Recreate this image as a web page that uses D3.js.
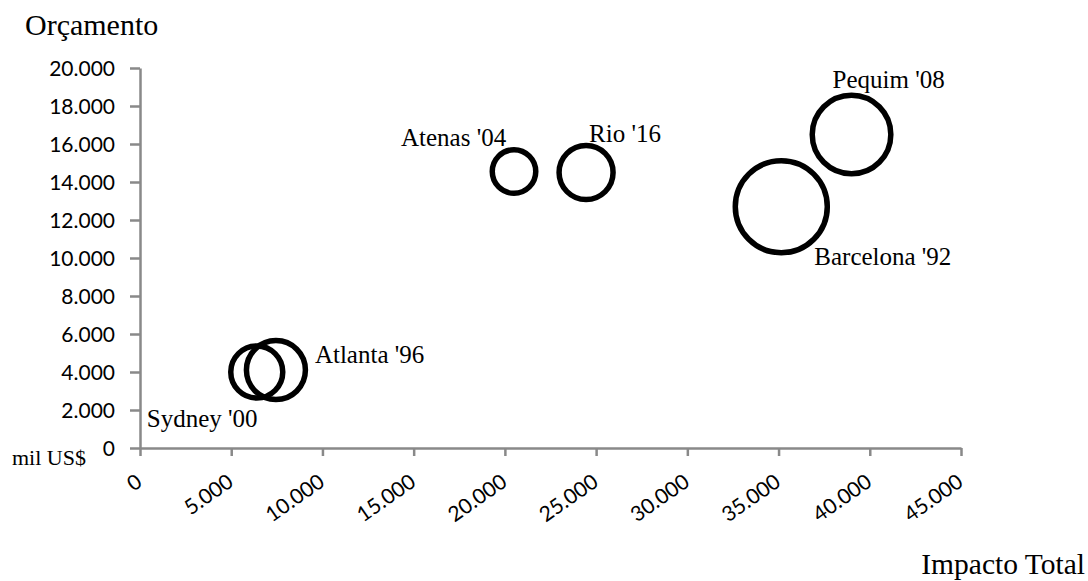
<!DOCTYPE html>
<html>
<head>
<meta charset="utf-8">
<script src="https://cdn.jsdelivr.net/npm/d3@7"></script>
<style>
  body { margin: 0; background: #fff; }
  svg { display: block; }
</style>
</head>
<body>
<div id="chart"></div>
<script>
// dados
const jogos = ["Barcelona '92", "Atlanta '96", "Sydney '00", "Atenas '04", "Pequim '08", "Rio '16"];
const impactoTotal = [35150, 7450, 6400, 20500, 39000, 24450];
const orcamento = [12700, 4100, 4000, 14550, 16500, 14500];
const tamanho = [2116, 870, 676, 473, 1544, 729];
const xTicks = [0, 5000, 10000, 15000, 20000, 25000, 30000, 35000, 40000, 45000];
const yTicks = [0, 2000, 4000, 6000, 8000, 10000, 12000, 14000, 16000, 18000, 20000];

// deslocamento dos rótulos em relação ao centro da bolha
const labelOffset = {
    "Barcelona '92": [33, 58],
    "Atlanta '96": [39, -7],
    "Sydney '00": [-110, 55],
    "Atenas '04": [-113, -26],
    "Pequim '08": [-19, -47],
    "Rio '16": [3, -31]
};

const width = 1088, height = 581;
const margin = {top: 68, right: 127, bottom: 133, left: 140};

const svg = d3.select("#chart").append("svg")
    .attr("width", width)
    .attr("height", height);

const x = d3.scaleLinear()
    .domain([0, 45000])
    .range([margin.left, width - margin.right]);

const y = d3.scaleLinear()
    .domain([0, 20000])
    .range([height - margin.bottom, margin.top]);

const r = d3.scaleSqrt()
    .domain([0, d3.max(tamanho)])
    .range([0, 46]);

const fmt = d => d3.format(",")(d).replace(/,/g, ".");
const axisColor = "#898989";

// eixo Y
const gy = svg.append("g")
    .attr("transform", `translate(${margin.left},0)`)
    .call(d3.axisLeft(y).tickValues(yTicks).tickSize(10).tickSizeOuter(0).tickFormat(fmt));
gy.select(".domain").attr("stroke", axisColor).attr("stroke-width", 2.5);
gy.selectAll(".tick line").attr("stroke", axisColor).attr("stroke-width", 2.5);
gy.selectAll(".tick text")
    .attr("x", -25)
    .attr("dy", "0.36em")
    .attr("fill", "#000")
    .style("font", "21px Lato");

// eixo X
const gx = svg.append("g")
    .attr("transform", `translate(0,${height - margin.bottom})`)
    .call(d3.axisBottom(x).tickValues(xTicks).tickSize(8).tickSizeOuter(0).tickFormat(fmt));
gx.select(".domain").attr("stroke", axisColor).attr("stroke-width", 2.5);
gx.selectAll(".tick line").attr("stroke", axisColor).attr("stroke-width", 2.5);
gx.selectAll(".tick text")
    .attr("y", 0)
    .attr("dy", "0.75em")
    .attr("text-anchor", "end")
    .attr("transform", "translate(-6,24) rotate(-35)")
    .attr("fill", "#000")
    .style("font", "21px Lato");

// bolhas
const data = jogos.map((d, i) => ({nome: d, x: impactoTotal[i], y: orcamento[i], s: tamanho[i]}));

svg.append("g")
  .selectAll("circle")
  .data(data)
  .join("circle")
    .attr("cx", d => x(d.x))
    .attr("cy", d => y(d.y))
    .attr("r", d => r(d.s))
    .attr("fill", "none")
    .attr("stroke", "#000")
    .attr("stroke-width", 5.5);

svg.append("g")
    .style("font", "25px 'Liberation Serif'")
  .selectAll("text")
  .data(data)
  .join("text")
    .attr("x", d => x(d.x) + labelOffset[d.nome][0])
    .attr("y", d => y(d.y) + labelOffset[d.nome][1])
    .text(d => d.nome);

// títulos
svg.append("text")
    .attr("x", 25)
    .attr("y", 35)
    .style("font", "30px 'Liberation Serif'")
    .text("Orçamento");

svg.append("text")
    .attr("x", 12)
    .attr("y", 465)
    .style("font", "22px 'Liberation Serif'")
    .text("mil US$");

svg.append("text")
    .attr("x", 1085)
    .attr("y", 574)
    .attr("text-anchor", "end")
    .style("font", "29.5px 'Liberation Serif'")
    .text("Impacto Total");
</script>
</body>
</html>
